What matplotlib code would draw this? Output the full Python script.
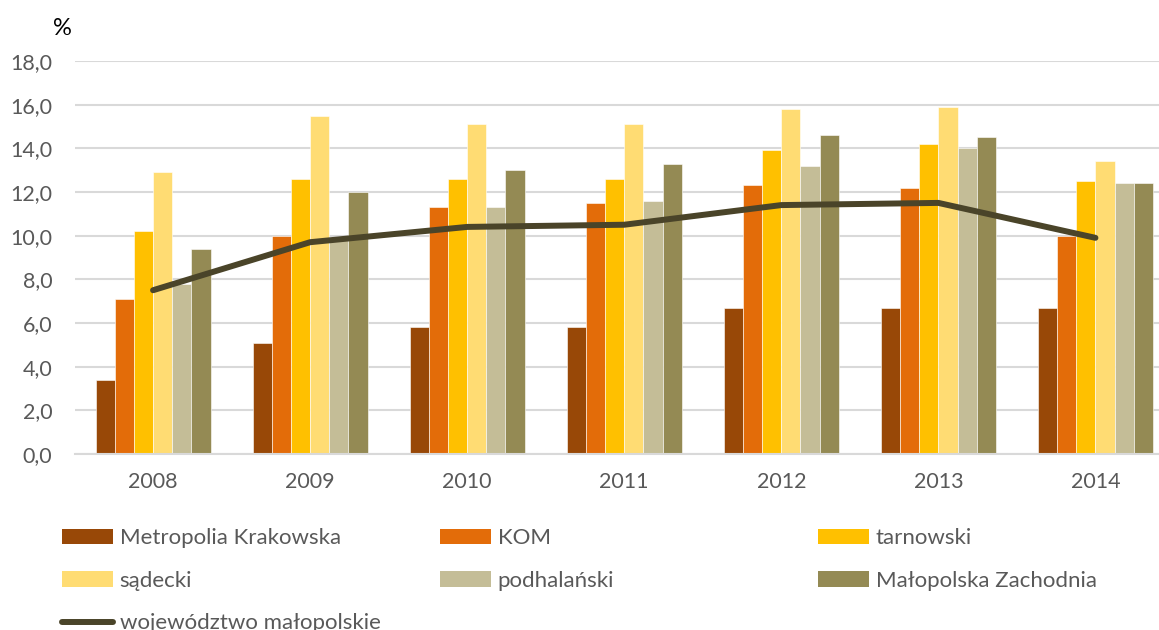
import numpy as np
import matplotlib.pyplot as plt
from matplotlib.patches import Patch
from matplotlib.lines import Line2D

plt.rcParams['font.family'] = ['Lato', 'DejaVu Sans']

# dane (%)
lata = ['2008', '2009', '2010', '2011', '2012', '2013', '2014']
metropolia = [3.4, 5.1, 5.8, 5.8, 6.7, 6.7, 6.7]
kom = [7.1, 10.0, 11.3, 11.5, 12.3, 12.2, 10.0]
tarnowski = [10.2, 12.6, 12.6, 12.6, 13.9, 14.2, 12.5]
sadecki = [12.9, 15.5, 15.1, 15.1, 15.8, 15.9, 13.4]
podhalanski = [7.8, 9.8, 11.3, 11.6, 13.2, 14.0, 12.4]
zachodnia = [9.4, 12.0, 13.0, 13.3, 14.6, 14.5, 12.4]
wojewodztwo = [7.5, 9.7, 10.4, 10.5, 11.4, 11.5, 9.9]

nazwy = ['Metropolia Krakowska', 'KOM', 'tarnowski', 'sądecki',
         'podhalański', 'Małopolska Zachodnia']
kolory = ['#984807', '#E36C09', '#FFC000', '#FFDC73', '#C4BD97', '#948A54']
kolor_linii = '#4A4429'

serie = [metropolia, kom, tarnowski, sadecki, podhalanski, zachodnia]

fig = plt.figure(figsize=(11.59, 6.30), dpi=100)
ax = fig.add_axes([0.0643, 0.2794, 0.9486, 0.6238])

x = np.arange(len(lata))
szer = 0.122
for i, (s, k) in enumerate(zip(serie, kolory)):
    ax.bar(x + (i - 2.5) * szer, s, szer, color=k, edgecolor='white',
           linewidth=0.4, zorder=2)

ax.plot(x, wojewodztwo, color=kolor_linii, linewidth=4.3,
        solid_capstyle='round', solid_joinstyle='round', zorder=3)

ax.set_ylim(0, 18)
ax.set_xlim(-0.5, len(lata) - 0.5)
ax.set_yticks(np.arange(0, 18.1, 2))
ax.set_yticklabels([f'{v:.1f}'.replace('.', ',') for v in np.arange(0, 18.1, 2)])
ax.set_xticks(x)
ax.set_xticklabels(lata)
ax.tick_params(axis='both', length=0, labelsize=15.5, labelcolor='#595959')
ax.tick_params(axis='y', pad=16)
ax.tick_params(axis='x', pad=13)
ax.grid(axis='y', color='#D9D9D9', linewidth=1.5, zorder=0)
ax.set_axisbelow(True)
for sp in ['top', 'right', 'left']:
    ax.spines[sp].set_visible(False)
ax.spines['bottom'].set_color('#D9D9D9')
ax.spines['bottom'].set_linewidth(1.5)

fig.text(0.046, 0.955, '%', fontsize=17, color='black', va='center')

# legenda w trzech kolumnach (kolejność wierszami jak w Excelu)
uchwyty = [Patch(facecolor=k) for k in kolory]
linia = Line2D([0], [0], color=kolor_linii, linewidth=4.3, solid_capstyle='round')
kolumny = [
    ([uchwyty[0], uchwyty[3], linia], [nazwy[0], nazwy[3], 'województwo małopolskie']),
    ([uchwyty[1], uchwyty[4]], [nazwy[1], nazwy[4]]),
    ([uchwyty[2], uchwyty[5]], [nazwy[2], nazwy[5]]),
]
pozycje = [62, 440, 818]
for (h, l), px in zip(kolumny, pozycje):
    leg = fig.legend(h, l, loc='upper left', bbox_to_anchor=(px / 1159, 1 - 528 / 630),
                     frameon=False, fontsize=16, handlelength=2.3, handleheight=0.68,
                     handletextpad=0.3, labelspacing=1.02, borderpad=0,
                     borderaxespad=0)
    for t in leg.get_texts():
        t.set_color('#595959')

fig.savefig('out.png', dpi=100)
